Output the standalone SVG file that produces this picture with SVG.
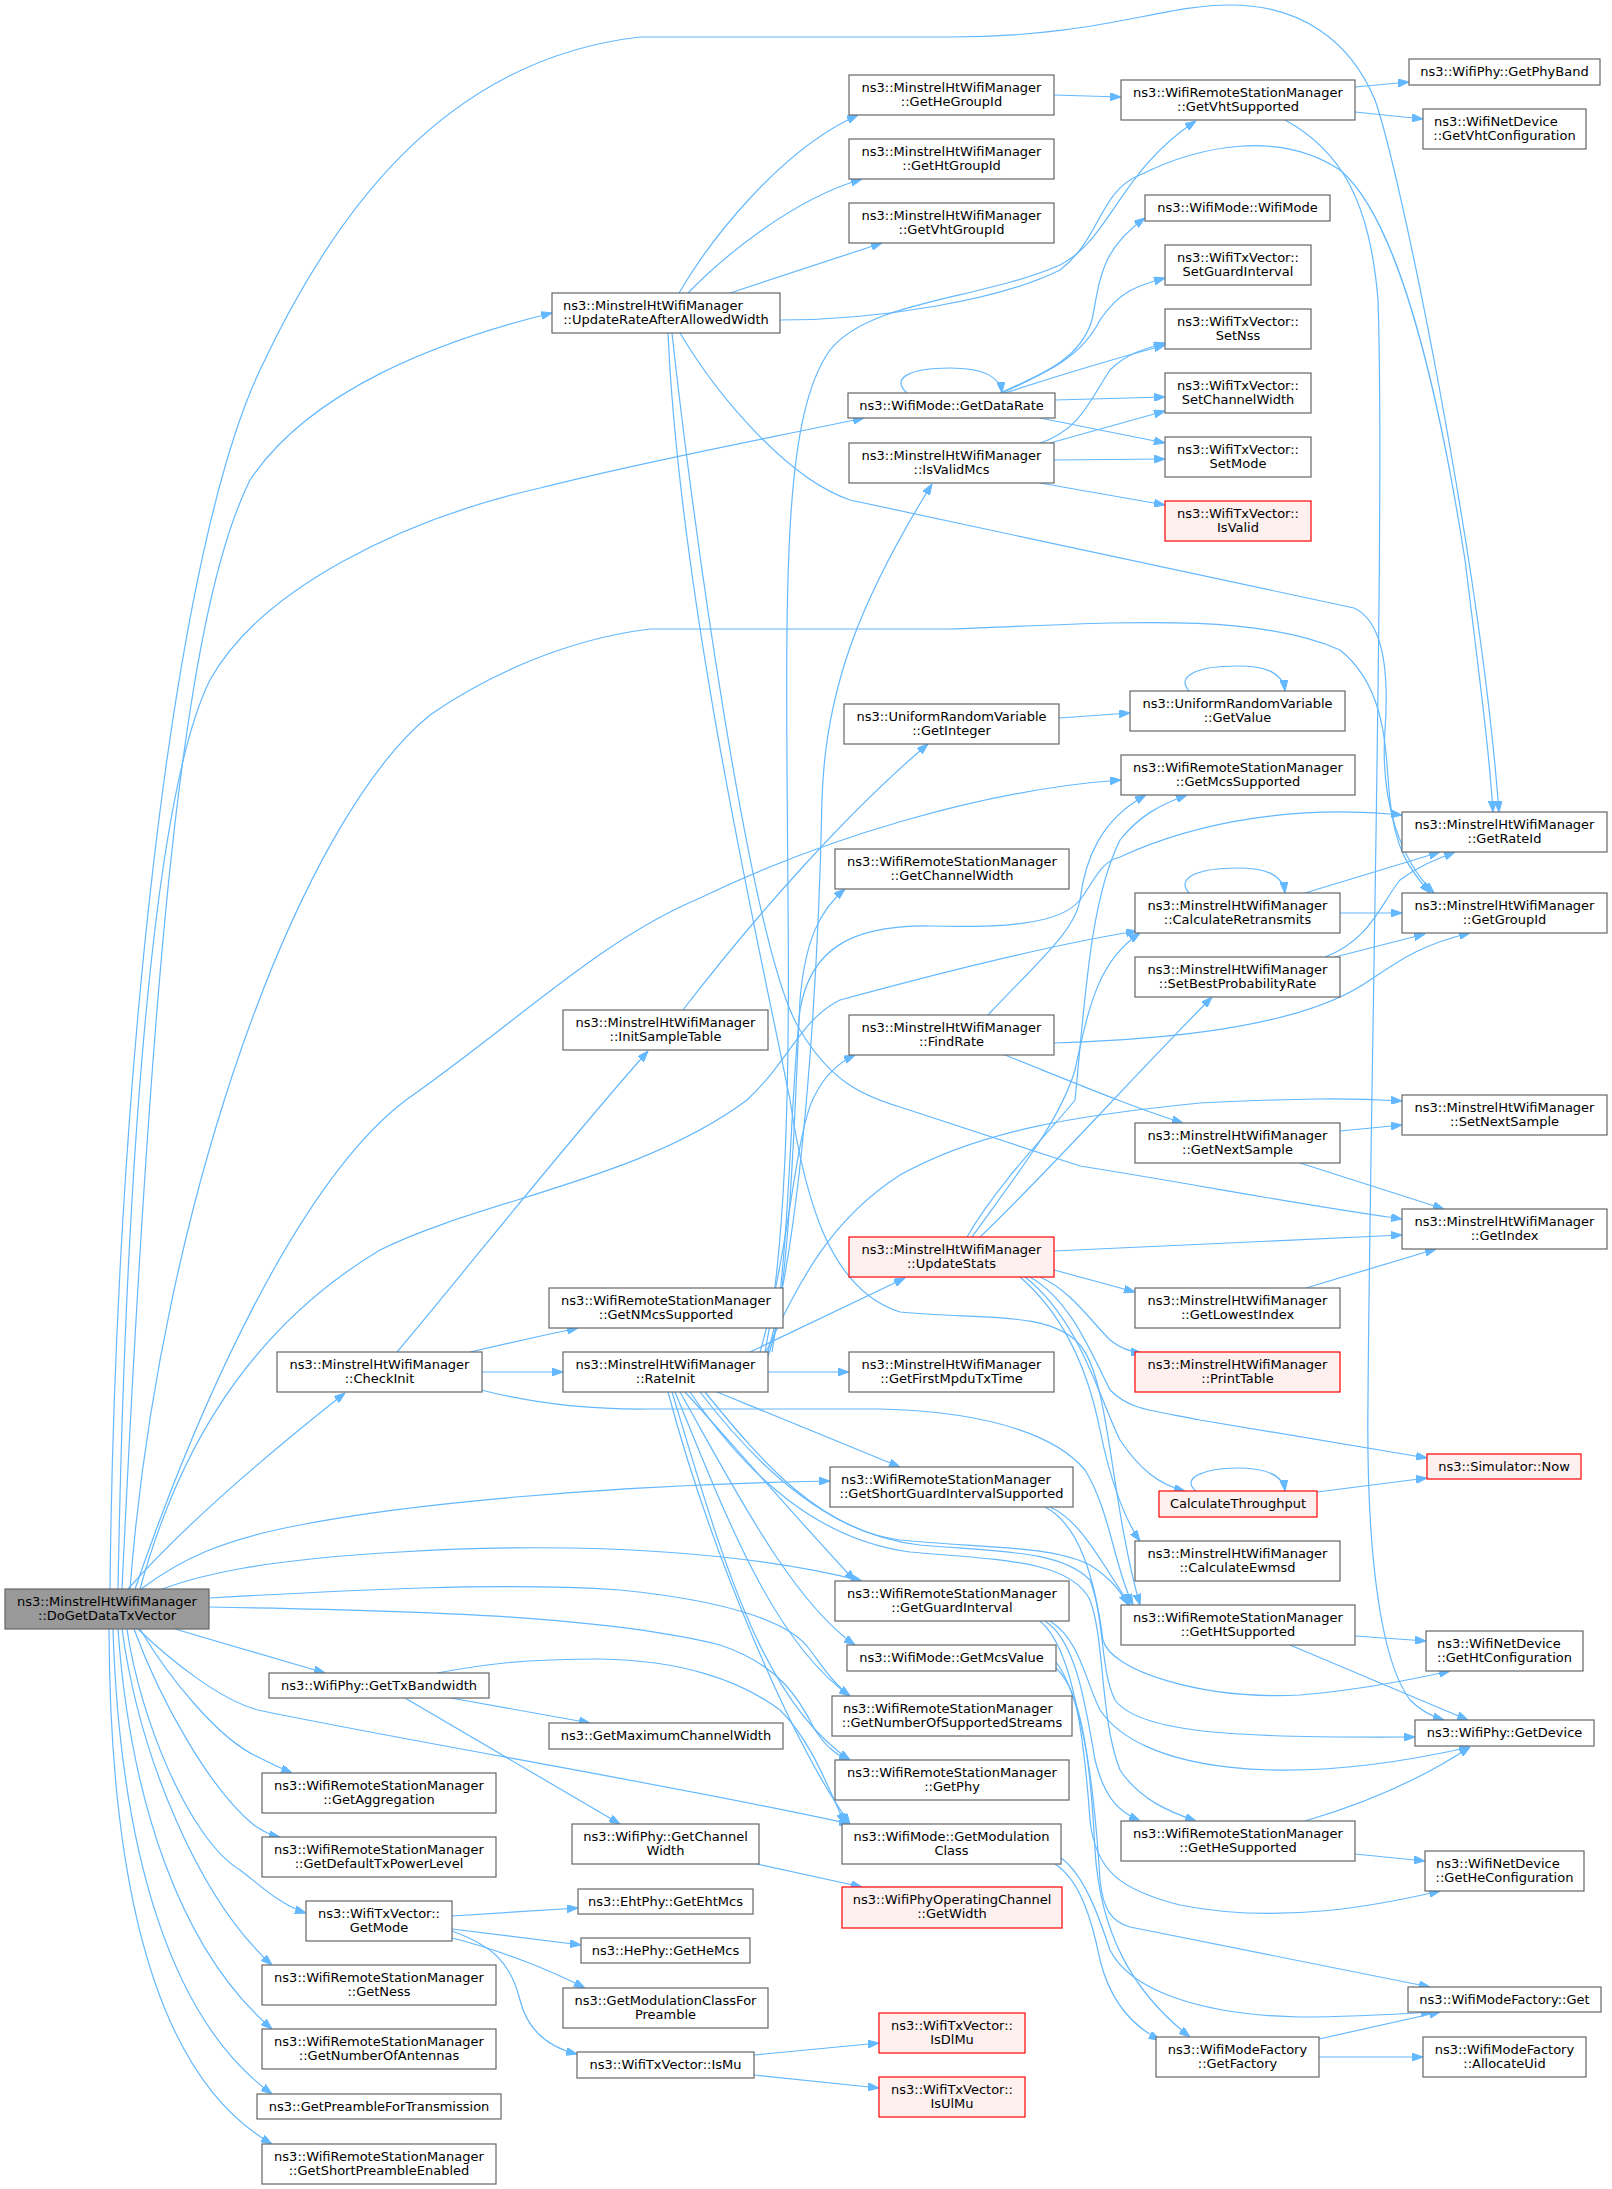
<svg xmlns="http://www.w3.org/2000/svg" width="1612" height="2189" viewBox="0 0 1612 2189">
<defs>
<marker id="a" markerWidth="11" markerHeight="8" refX="11" refY="4" orient="auto" markerUnits="userSpaceOnUse"><path d="M0,0 L11,4 L0,8 z" fill="#63b8ff" stroke="#63b8ff" stroke-width="1"/></marker>
<style>
.n rect{fill:#ffffff;stroke:#666666;stroke-width:1.2}
.r rect{fill:#fff0f0;stroke:#ff0000;stroke-width:1.2}
.g rect{fill:#999999;stroke:#666666;stroke-width:1.2}
text{font-family:"DejaVu Sans","Liberation Sans",sans-serif;font-size:13px;fill:#000000}
.c{text-anchor:middle}
#edges path{fill:none;stroke:#63b8ff;stroke-width:1.2;marker-end:url(#a)}
</style>
</defs>
<rect x="0" y="0" width="1612" height="2189" fill="#ffffff"/>
<g id="edges">
<path d="M110,1589 C115,1100 170,560 260,370 C330,220 440,60 640,37 L950,37 C1100,37 1160,5 1230,5 C1300,5 1350,40 1375,100 C1400,170 1480,560 1499,812"/>
<path d="M780,320 C880,320 1000,300 1060,270 C1100,240 1100,190 1140,175 C1200,145 1280,130 1340,170 C1400,220 1440,400 1465,560 C1480,680 1490,760 1493,812"/>
<path d="M765,1352 C785,1250 790,1100 788,900 C786,600 780,420 830,350 C870,300 980,300 1060,265 C1110,240 1120,170 1196,121"/>
<path d="M679,293 C710,240 780,150 858,115"/>
<path d="M688,293 C720,260 790,200 862,179"/>
<path d="M730,293 L882,243"/>
<path d="M680,333 C720,400 790,480 850,500 L1354,608 C1380,620 1390,660 1385,730 C1380,800 1400,860 1434,893"/>
<path d="M672,333 C690,500 750,950 800,1030 C830,1080 860,1095 900,1107 L1080,1166 C1200,1185 1300,1205 1402,1219"/>
<path d="M668,333 C680,600 760,950 790,1100 C805,1200 830,1290 900,1312 C980,1320 1050,1310 1080,1345 C1110,1380 1110,1500 1140,1605"/>
<path d="M122,1589 C150,1000 180,620 250,480 C310,390 440,340 552,313"/>
<path d="M118,1589 C125,1200 150,800 210,680 C260,590 400,520 540,488 C650,460 760,440 864,418"/>
<path d="M130,1589 C160,1200 300,820 430,715 C480,680 560,640 650,629 L950,629 C1100,624 1250,610 1340,650 C1390,690 1385,760 1390,800 C1395,850 1410,870 1430,893"/>
<path d="M135,1589 C200,1400 300,1180 406,1100 C520,1020 600,940 700,898 C820,840 980,790 1121,780"/>
<path d="M140,1589 C170,1480 230,1340 380,1250 C480,1200 640,1180 747,1100 C790,1060 800,1020 840,1000 C950,970 1050,945 1137,931"/>
<path d="M128,1589 C180,1530 260,1460 345,1393"/>
<path d="M397,1352 C450,1290 560,1150 648,1051"/>
<path d="M470,1352 C500,1345 540,1336 578,1328"/>
<path d="M481,1372 L563,1372"/>
<path d="M481,1390 C520,1400 580,1410 650,1409 L880,1409 C1000,1412 1060,1440 1085,1470 C1110,1510 1115,1570 1133,1605"/>
<path d="M683,1010 C760,910 850,810 928,744"/>
<path d="M1059,718 L1130,713"/>
<path d="M1189,691 C1175,675 1200,666 1237,666 C1265,666 1283,672 1285,691"/>
<path d="M1054,95 L1121,97"/>
<path d="M1355,87 L1409,82"/>
<path d="M1355,112 L1423,119"/>
<path d="M1285,120 C1340,150 1370,200 1378,300 C1385,500 1370,1100 1368,1400 C1366,1550 1380,1660 1410,1700 C1420,1710 1430,1716 1444,1720"/>
<path d="M1355,1636 L1426,1641"/>
<path d="M1290,1645 L1468,1720"/>
<path d="M1355,1854 L1425,1861"/>
<path d="M1305,1821 C1360,1805 1420,1780 1470,1747"/>
<path d="M1000,393 C1040,375 1080,360 1092,320 C1100,280 1100,250 1145,218"/>
<path d="M1002,393 C1040,375 1080,360 1100,320 C1120,290 1140,285 1165,278"/>
<path d="M1005,393 C1060,375 1110,360 1165,345"/>
<path d="M1055,400 L1165,397"/>
<path d="M1040,418 L1165,443"/>
<path d="M907,393 C890,378 910,368 950,368 C980,368 1000,375 1002,393"/>
<path d="M1040,443 C1080,430 1090,400 1110,370 C1125,355 1140,350 1165,343"/>
<path d="M1050,443 L1165,411"/>
<path d="M1054,460 L1165,459"/>
<path d="M1040,483 L1165,505"/>
<path d="M768,1352 C810,1200 820,900 822,800 C825,690 860,600 932,484"/>
<path d="M768,1356 C790,1300 795,1100 800,1000 C805,940 820,910 845,889"/>
<path d="M772,1352 C790,1250 790,1100 800,1010 C810,950 850,925 930,926 C1000,928 1060,925 1080,900 C1095,880 1100,862 1120,857 C1200,820 1300,805 1402,815"/>
<path d="M750,1352 L905,1278"/>
<path d="M766,1352 C800,1280 830,1220 900,1175 C980,1130 1080,1115 1200,1103 C1300,1098 1350,1098 1402,1101"/>
<path d="M760,1352 C790,1250 795,1130 815,1095 C825,1075 840,1062 855,1055"/>
<path d="M768,1372 L849,1372"/>
<path d="M717,1392 L900,1467"/>
<path d="M685,1392 C720,1430 780,1500 855,1581"/>
<path d="M680,1392 C730,1480 790,1600 855,1645"/>
<path d="M675,1392 C720,1500 770,1640 850,1696"/>
<path d="M672,1392 C720,1550 760,1700 850,1760"/>
<path d="M668,1392 C710,1550 790,1740 850,1824"/>
<path d="M705,1392 C760,1460 820,1530 900,1540 C980,1548 1050,1545 1090,1565 C1110,1578 1120,1590 1128,1605"/>
<path d="M700,1392 C760,1470 830,1535 920,1545 C1000,1552 1060,1550 1090,1580 C1105,1620 1100,1670 1115,1700 C1140,1735 1250,1738 1415,1737"/>
<path d="M690,1392 C750,1480 820,1540 910,1552 C1000,1560 1070,1560 1090,1600 C1105,1640 1100,1720 1120,1770 C1140,1800 1170,1812 1196,1821"/>
<path d="M967,1237 C1000,1180 1060,1120 1075,1100 C1085,1000 1090,900 1120,840 C1140,815 1160,805 1187,795"/>
<path d="M972,1237 C1020,1170 1060,1120 1075,1070 C1090,1000 1100,960 1140,933"/>
<path d="M980,1237 C1050,1170 1130,1080 1212,997"/>
<path d="M1054,1251 L1402,1235"/>
<path d="M1054,1270 L1135,1292"/>
<path d="M1040,1277 C1070,1290 1090,1320 1110,1340 C1120,1348 1130,1352 1142,1353"/>
<path d="M1030,1277 C1070,1300 1090,1350 1110,1390 C1130,1410 1150,1410 1200,1420 L1427,1458"/>
<path d="M1025,1277 C1080,1320 1100,1400 1120,1440 C1140,1470 1160,1485 1185,1491"/>
<path d="M1020,1277 C1070,1320 1090,1380 1100,1430 C1110,1480 1125,1520 1140,1541"/>
<path d="M988,1015 C1040,960 1075,930 1080,900 C1085,860 1100,820 1146,795"/>
<path d="M1054,1043 C1150,1040 1300,1030 1370,980 C1400,960 1420,945 1470,933"/>
<path d="M1005,1055 C1080,1085 1140,1110 1183,1123"/>
<path d="M1305,893 L1440,852"/>
<path d="M1340,913 L1402,913"/>
<path d="M1189,893 C1175,877 1200,868 1237,868 C1265,868 1283,874 1285,893"/>
<path d="M1325,957 C1370,940 1380,905 1400,880 C1420,865 1440,858 1455,852"/>
<path d="M1335,957 L1425,934"/>
<path d="M1340,1131 L1402,1125"/>
<path d="M1300,1163 L1444,1209"/>
<path d="M1306,1288 L1436,1249"/>
<path d="M1196,1491 C1180,1478 1205,1468 1237,1468 C1265,1468 1283,1474 1285,1491"/>
<path d="M1317,1492 L1427,1478"/>
<path d="M141,1589 C180,1560 220,1540 300,1525 C400,1505 600,1485 830,1481"/>
<path d="M162,1589 C200,1575 260,1560 400,1552 C600,1540 760,1555 862,1581"/>
<path d="M209,1598 C350,1590 500,1582 620,1590 C720,1600 790,1620 810,1650 C825,1670 835,1685 850,1696"/>
<path d="M209,1607 C400,1610 600,1615 720,1645 C780,1665 800,1700 815,1730 C825,1745 835,1755 850,1760"/>
<path d="M138,1629 C170,1660 220,1700 258,1710 C400,1740 700,1790 850,1824"/>
<path d="M175,1629 L325,1673"/>
<path d="M140,1629 C170,1680 220,1740 258,1757 C270,1763 280,1768 292,1773"/>
<path d="M134,1629 C160,1700 210,1790 255,1826 C265,1832 270,1835 280,1837"/>
<path d="M127,1629 C140,1720 190,1840 240,1870 C260,1885 280,1905 306,1913"/>
<path d="M122,1629 C140,1760 200,1900 272,1965"/>
<path d="M118,1629 C130,1800 180,1950 272,2029"/>
<path d="M113,1629 C120,1850 170,2020 272,2094"/>
<path d="M109,1629 C110,1900 160,2080 272,2144"/>
<path d="M451,1698 C480,1703 520,1710 590,1723"/>
<path d="M405,1698 L620,1824"/>
<path d="M437,1673 C480,1665 520,1659 600,1659 C680,1660 740,1680 780,1710 C810,1740 825,1780 845,1824"/>
<path d="M757,1864 L862,1887"/>
<path d="M452,1916 L578,1908"/>
<path d="M452,1929 L581,1945"/>
<path d="M452,1938 C500,1950 550,1970 585,1988"/>
<path d="M452,1931 C490,1945 510,1960 520,2000 C530,2040 560,2050 577,2054"/>
<path d="M754,2055 L879,2043"/>
<path d="M754,2075 L879,2088"/>
<path d="M1056,1668 C1080,1690 1090,1750 1095,1850 C1100,1930 1130,1990 1190,2037"/>
<path d="M1055,1864 C1080,1880 1092,1920 1100,1960 C1110,2000 1130,2025 1160,2040"/>
<path d="M1056,1662 C1085,1700 1095,1800 1100,1880 C1103,1910 1112,1922 1130,1927 L1430,1987"/>
<path d="M1061,1858 C1085,1875 1100,1920 1110,1950 C1130,1990 1200,2015 1300,2017 C1350,2017 1400,2014 1432,2012"/>
<path d="M1319,2039 L1440,2012"/>
<path d="M1319,2057 L1423,2057"/>
<path d="M1050,1507 C1080,1520 1100,1560 1130,1605"/>
<path d="M1045,1507 C1080,1525 1095,1580 1103,1640 C1110,1670 1200,1700 1300,1695 C1360,1690 1410,1680 1450,1671"/>
<path d="M1045,1621 C1075,1640 1085,1700 1095,1760 C1105,1800 1120,1812 1140,1821"/>
<path d="M1040,1621 C1075,1650 1085,1750 1090,1820 C1095,1870 1120,1890 1180,1905 C1280,1925 1380,1905 1440,1891"/>
<path d="M1050,1621 C1080,1640 1085,1680 1100,1710 C1140,1770 1280,1790 1470,1747"/>
</g>
<g id="n_D" class="g"><rect x="5" y="1589" width="204" height="40"/><text class="c" x="107" y="1606">ns3::MinstrelHtWifiManager</text><text class="c" x="107" y="1620">::DoGetDataTxVector</text></g>
<g id="n_U" class="n"><rect x="552" y="293" width="228" height="40"/><text x="563" y="310">ns3::MinstrelHtWifiManager</text><text class="c" x="666" y="324">::UpdateRateAfterAllowedWidth</text></g>
<g id="n_HeGid" class="n"><rect x="849" y="75" width="205" height="40"/><text class="c" x="951.5" y="92">ns3::MinstrelHtWifiManager</text><text class="c" x="951.5" y="106">::GetHeGroupId</text></g>
<g id="n_HtGid" class="n"><rect x="849" y="139" width="205" height="40"/><text class="c" x="951.5" y="156">ns3::MinstrelHtWifiManager</text><text class="c" x="951.5" y="170">::GetHtGroupId</text></g>
<g id="n_VhtGid" class="n"><rect x="849" y="203" width="205" height="40"/><text class="c" x="951.5" y="220">ns3::MinstrelHtWifiManager</text><text class="c" x="951.5" y="234">::GetVhtGroupId</text></g>
<g id="n_VhtSup" class="n"><rect x="1121" y="80" width="234" height="40"/><text class="c" x="1238" y="97">ns3::WifiRemoteStationManager</text><text class="c" x="1238" y="111">::GetVhtSupported</text></g>
<g id="n_PhyBand" class="n"><rect x="1409" y="59" width="191" height="26"/><text class="c" x="1504.5" y="76">ns3::WifiPhy::GetPhyBand</text></g>
<g id="n_VhtConf" class="n"><rect x="1423" y="109" width="163" height="40"/><text x="1434" y="126">ns3::WifiNetDevice</text><text class="c" x="1504.5" y="140">::GetVhtConfiguration</text></g>
<g id="n_WifiMode" class="n"><rect x="1145" y="195" width="185" height="26"/><text class="c" x="1237.5" y="212">ns3::WifiMode::WifiMode</text></g>
<g id="n_SetGI" class="n"><rect x="1165" y="245" width="146" height="40"/><text class="c" x="1238" y="262">ns3::WifiTxVector::</text><text class="c" x="1238" y="276">SetGuardInterval</text></g>
<g id="n_SetNss" class="n"><rect x="1165" y="309" width="146" height="40"/><text class="c" x="1238" y="326">ns3::WifiTxVector::</text><text class="c" x="1238" y="340">SetNss</text></g>
<g id="n_SetCW" class="n"><rect x="1165" y="373" width="146" height="40"/><text class="c" x="1238" y="390">ns3::WifiTxVector::</text><text class="c" x="1238" y="404">SetChannelWidth</text></g>
<g id="n_SetMode" class="n"><rect x="1165" y="437" width="146" height="40"/><text class="c" x="1238" y="454">ns3::WifiTxVector::</text><text class="c" x="1238" y="468">SetMode</text></g>
<g id="n_IsValid" class="r"><rect x="1165" y="501" width="146" height="40"/><text class="c" x="1238" y="518">ns3::WifiTxVector::</text><text class="c" x="1238" y="532">IsValid</text></g>
<g id="n_GetDataRate" class="n"><rect x="848" y="393" width="207" height="25"/><text class="c" x="951.5" y="410">ns3::WifiMode::GetDataRate</text></g>
<g id="n_IsValidMcs" class="n"><rect x="849" y="443" width="205" height="40"/><text class="c" x="951.5" y="460">ns3::MinstrelHtWifiManager</text><text class="c" x="951.5" y="474">::IsValidMcs</text></g>
<g id="n_GetInteger" class="n"><rect x="844" y="704" width="215" height="40"/><text class="c" x="951.5" y="721">ns3::UniformRandomVariable</text><text class="c" x="951.5" y="735">::GetInteger</text></g>
<g id="n_GetValue" class="n"><rect x="1130" y="691" width="215" height="40"/><text class="c" x="1237.5" y="708">ns3::UniformRandomVariable</text><text class="c" x="1237.5" y="722">::GetValue</text></g>
<g id="n_GetMcsSup" class="n"><rect x="1121" y="755" width="234" height="40"/><text class="c" x="1238" y="772">ns3::WifiRemoteStationManager</text><text class="c" x="1238" y="786">::GetMcsSupported</text></g>
<g id="n_GetRateId" class="n"><rect x="1402" y="812" width="205" height="40"/><text class="c" x="1504.5" y="829">ns3::MinstrelHtWifiManager</text><text class="c" x="1504.5" y="843">::GetRateId</text></g>
<g id="n_GetChW" class="n"><rect x="835" y="849" width="234" height="40"/><text class="c" x="952" y="866">ns3::WifiRemoteStationManager</text><text class="c" x="952" y="880">::GetChannelWidth</text></g>
<g id="n_CalcRetr" class="n"><rect x="1135" y="893" width="205" height="40"/><text class="c" x="1237.5" y="910">ns3::MinstrelHtWifiManager</text><text class="c" x="1237.5" y="924">::CalculateRetransmits</text></g>
<g id="n_GetGroupId" class="n"><rect x="1402" y="893" width="205" height="40"/><text class="c" x="1504.5" y="910">ns3::MinstrelHtWifiManager</text><text class="c" x="1504.5" y="924">::GetGroupId</text></g>
<g id="n_SetBest" class="n"><rect x="1135" y="957" width="205" height="40"/><text class="c" x="1237.5" y="974">ns3::MinstrelHtWifiManager</text><text class="c" x="1237.5" y="988">::SetBestProbabilityRate</text></g>
<g id="n_InitSample" class="n"><rect x="563" y="1010" width="205" height="40"/><text class="c" x="665.5" y="1027">ns3::MinstrelHtWifiManager</text><text class="c" x="665.5" y="1041">::InitSampleTable</text></g>
<g id="n_FindRate" class="n"><rect x="849" y="1015" width="205" height="40"/><text class="c" x="951.5" y="1032">ns3::MinstrelHtWifiManager</text><text class="c" x="951.5" y="1046">::FindRate</text></g>
<g id="n_SetNextSample" class="n"><rect x="1402" y="1095" width="205" height="40"/><text class="c" x="1504.5" y="1112">ns3::MinstrelHtWifiManager</text><text class="c" x="1504.5" y="1126">::SetNextSample</text></g>
<g id="n_GetNextSample" class="n"><rect x="1135" y="1123" width="205" height="40"/><text class="c" x="1237.5" y="1140">ns3::MinstrelHtWifiManager</text><text class="c" x="1237.5" y="1154">::GetNextSample</text></g>
<g id="n_GetIndex" class="n"><rect x="1402" y="1209" width="205" height="40"/><text class="c" x="1504.5" y="1226">ns3::MinstrelHtWifiManager</text><text class="c" x="1504.5" y="1240">::GetIndex</text></g>
<g id="n_UpdateStats" class="r"><rect x="849" y="1237" width="205" height="40"/><text class="c" x="951.5" y="1254">ns3::MinstrelHtWifiManager</text><text class="c" x="951.5" y="1268">::UpdateStats</text></g>
<g id="n_GetLowestIndex" class="n"><rect x="1135" y="1288" width="205" height="40"/><text class="c" x="1237.5" y="1305">ns3::MinstrelHtWifiManager</text><text class="c" x="1237.5" y="1319">::GetLowestIndex</text></g>
<g id="n_PrintTable" class="r"><rect x="1135" y="1352" width="205" height="40"/><text class="c" x="1237.5" y="1369">ns3::MinstrelHtWifiManager</text><text class="c" x="1237.5" y="1383">::PrintTable</text></g>
<g id="n_GetNMcs" class="n"><rect x="549" y="1288" width="234" height="40"/><text class="c" x="666" y="1305">ns3::WifiRemoteStationManager</text><text class="c" x="666" y="1319">::GetNMcsSupported</text></g>
<g id="n_CheckInit" class="n"><rect x="277" y="1352" width="205" height="40"/><text class="c" x="379.5" y="1369">ns3::MinstrelHtWifiManager</text><text class="c" x="379.5" y="1383">::CheckInit</text></g>
<g id="n_RateInit" class="n"><rect x="563" y="1352" width="205" height="40"/><text class="c" x="665.5" y="1369">ns3::MinstrelHtWifiManager</text><text class="c" x="665.5" y="1383">::RateInit</text></g>
<g id="n_FirstMpdu" class="n"><rect x="849" y="1352" width="205" height="40"/><text class="c" x="951.5" y="1369">ns3::MinstrelHtWifiManager</text><text class="c" x="951.5" y="1383">::GetFirstMpduTxTime</text></g>
<g id="n_SimNow" class="r"><rect x="1427" y="1454" width="154" height="25"/><text class="c" x="1504" y="1471">ns3::Simulator::Now</text></g>
<g id="n_CalcThr" class="r"><rect x="1159" y="1491" width="158" height="26"/><text class="c" x="1238" y="1508">CalculateThroughput</text></g>
<g id="n_SGI" class="n"><rect x="830" y="1467" width="243" height="40"/><text x="841" y="1484">ns3::WifiRemoteStationManager</text><text class="c" x="951.5" y="1498">::GetShortGuardIntervalSupported</text></g>
<g id="n_CalcEwmsd" class="n"><rect x="1135" y="1541" width="205" height="40"/><text class="c" x="1237.5" y="1558">ns3::MinstrelHtWifiManager</text><text class="c" x="1237.5" y="1572">::CalculateEwmsd</text></g>
<g id="n_GetGI" class="n"><rect x="835" y="1581" width="234" height="40"/><text class="c" x="952" y="1598">ns3::WifiRemoteStationManager</text><text class="c" x="952" y="1612">::GetGuardInterval</text></g>
<g id="n_GetHtSup" class="n"><rect x="1121" y="1605" width="234" height="40"/><text class="c" x="1238" y="1622">ns3::WifiRemoteStationManager</text><text class="c" x="1238" y="1636">::GetHtSupported</text></g>
<g id="n_HtConf" class="n"><rect x="1426" y="1631" width="157" height="40"/><text x="1437" y="1648">ns3::WifiNetDevice</text><text class="c" x="1504.5" y="1662">::GetHtConfiguration</text></g>
<g id="n_McsValue" class="n"><rect x="847" y="1645" width="209" height="26"/><text class="c" x="951.5" y="1662">ns3::WifiMode::GetMcsValue</text></g>
<g id="n_GetDevice" class="n"><rect x="1415" y="1720" width="179" height="26"/><text class="c" x="1504.5" y="1737">ns3::WifiPhy::GetDevice</text></g>
<g id="n_TxBw" class="n"><rect x="269" y="1673" width="220" height="25"/><text class="c" x="379" y="1690">ns3::WifiPhy::GetTxBandwidth</text></g>
<g id="n_NSS" class="n"><rect x="832" y="1696" width="240" height="40"/><text x="843" y="1713">ns3::WifiRemoteStationManager</text><text class="c" x="952" y="1727">::GetNumberOfSupportedStreams</text></g>
<g id="n_MaxChW" class="n"><rect x="549" y="1723" width="234" height="26"/><text class="c" x="666" y="1740">ns3::GetMaximumChannelWidth</text></g>
<g id="n_GetPhy" class="n"><rect x="835" y="1760" width="234" height="40"/><text class="c" x="952" y="1777">ns3::WifiRemoteStationManager</text><text class="c" x="952" y="1791">::GetPhy</text></g>
<g id="n_Aggregation" class="n"><rect x="262" y="1773" width="234" height="40"/><text class="c" x="379" y="1790">ns3::WifiRemoteStationManager</text><text class="c" x="379" y="1804">::GetAggregation</text></g>
<g id="n_PhyChW" class="n"><rect x="572" y="1824" width="187" height="40"/><text class="c" x="665.5" y="1841">ns3::WifiPhy::GetChannel</text><text class="c" x="665.5" y="1855">Width</text></g>
<g id="n_ModClass" class="n"><rect x="842" y="1824" width="219" height="40"/><text class="c" x="951.5" y="1841">ns3::WifiMode::GetModulation</text><text class="c" x="951.5" y="1855">Class</text></g>
<g id="n_HeSup" class="n"><rect x="1121" y="1821" width="234" height="40"/><text class="c" x="1238" y="1838">ns3::WifiRemoteStationManager</text><text class="c" x="1238" y="1852">::GetHeSupported</text></g>
<g id="n_HeConf" class="n"><rect x="1425" y="1851" width="159" height="40"/><text x="1436" y="1868">ns3::WifiNetDevice</text><text class="c" x="1504.5" y="1882">::GetHeConfiguration</text></g>
<g id="n_DefTxPow" class="n"><rect x="262" y="1837" width="234" height="40"/><text class="c" x="379" y="1854">ns3::WifiRemoteStationManager</text><text class="c" x="379" y="1868">::GetDefaultTxPowerLevel</text></g>
<g id="n_OpChWidth" class="r"><rect x="842" y="1887" width="220" height="41"/><text class="c" x="952" y="1904">ns3::WifiPhyOperatingChannel</text><text class="c" x="952" y="1918">::GetWidth</text></g>
<g id="n_GetMode" class="n"><rect x="306" y="1901" width="146" height="40"/><text class="c" x="379" y="1918">ns3::WifiTxVector::</text><text class="c" x="379" y="1932">GetMode</text></g>
<g id="n_EhtMcs" class="n"><rect x="578" y="1889" width="175" height="25"/><text class="c" x="665.5" y="1906">ns3::EhtPhy::GetEhtMcs</text></g>
<g id="n_HeMcs" class="n"><rect x="581" y="1938" width="169" height="25"/><text class="c" x="665.5" y="1955">ns3::HePhy::GetHeMcs</text></g>
<g id="n_FactGet" class="n"><rect x="1408" y="1987" width="193" height="25"/><text class="c" x="1504.5" y="2004">ns3::WifiModeFactory::Get</text></g>
<g id="n_Ness" class="n"><rect x="262" y="1965" width="234" height="40"/><text class="c" x="379" y="1982">ns3::WifiRemoteStationManager</text><text class="c" x="379" y="1996">::GetNess</text></g>
<g id="n_ModClassPre" class="n"><rect x="563" y="1988" width="205" height="40"/><text class="c" x="665.5" y="2005">ns3::GetModulationClassFor</text><text class="c" x="665.5" y="2019">Preamble</text></g>
<g id="n_GetFactory" class="n"><rect x="1156" y="2037" width="163" height="40"/><text class="c" x="1237.5" y="2054">ns3::WifiModeFactory</text><text class="c" x="1237.5" y="2068">::GetFactory</text></g>
<g id="n_AllocUid" class="n"><rect x="1423" y="2037" width="163" height="40"/><text class="c" x="1504.5" y="2054">ns3::WifiModeFactory</text><text class="c" x="1504.5" y="2068">::AllocateUid</text></g>
<g id="n_Antennas" class="n"><rect x="262" y="2029" width="234" height="40"/><text class="c" x="379" y="2046">ns3::WifiRemoteStationManager</text><text class="c" x="379" y="2060">::GetNumberOfAntennas</text></g>
<g id="n_IsMu" class="n"><rect x="577" y="2052" width="177" height="26"/><text class="c" x="665.5" y="2069">ns3::WifiTxVector::IsMu</text></g>
<g id="n_IsDlMu" class="r"><rect x="879" y="2013" width="146" height="40"/><text class="c" x="952" y="2030">ns3::WifiTxVector::</text><text class="c" x="952" y="2044">IsDlMu</text></g>
<g id="n_IsUlMu" class="r"><rect x="879" y="2077" width="146" height="40"/><text class="c" x="952" y="2094">ns3::WifiTxVector::</text><text class="c" x="952" y="2108">IsUlMu</text></g>
<g id="n_Preamble" class="n"><rect x="257" y="2094" width="244" height="25"/><text class="c" x="379" y="2111">ns3::GetPreambleForTransmission</text></g>
<g id="n_ShortPre" class="n"><rect x="262" y="2144" width="234" height="40"/><text class="c" x="379" y="2161">ns3::WifiRemoteStationManager</text><text class="c" x="379" y="2175">::GetShortPreambleEnabled</text></g>
</svg>
